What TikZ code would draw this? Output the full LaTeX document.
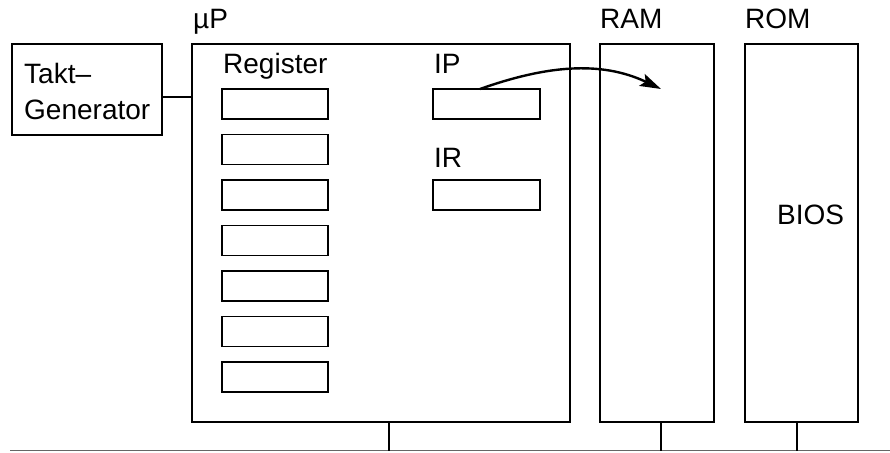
\documentclass[tikz,border=0pt]{standalone}
\usepackage{fontspec}
\setmainfont{Liberation Sans}
\usetikzlibrary{arrows.meta}
\begin{document}
\begin{tikzpicture}[x=1pt,y=-1pt,
  box/.style={draw,line width=1.2pt,inner sep=0pt,outer sep=0pt,anchor=north west},
  reg/.style={box,minimum width=106pt,minimum height=30pt},
  lbl/.style={anchor=base west,inner sep=0pt,font=\fontsize{28}{33}\selectfont},
  wire/.style={line width=2.4pt},
  bus/.style={line width=1.4pt,black!60}]
  \useasboundingbox (0,0) rectangle (890,452);

  % clock generator
  \node[box,minimum width=150pt,minimum height=91pt] (takt) at (12,44) {};
  \node[lbl] (taktA) at (24,83) {Takt–};
  \node[lbl] (taktB) at (24,119) {Generator};

  % microprocessor with its registers
  \node[box,minimum width=378pt,minimum height=378pt] (up) at (192,44) {};
  \node[lbl] (upL) at (193,29) {µP};
  \node[lbl] (regL) at (223,74) {Register};
  \foreach \i in {0,...,6}
    \node[reg] (r\i) at (222,{89+45.5*\i}) {};
  \node[lbl] (ipL) at (434,74) {IP};
  \node[reg,minimum width=107pt] (ip) at (433,89) {};
  \node[lbl] (irL) at (434,167) {IR};
  \node[reg,minimum width=107pt] (ir) at (433,180) {};

  % memories
  \node[box,minimum width=114pt,minimum height=378pt] (ram) at (600,44) {};
  \node[lbl] (ramL) at (600,29) {RAM};
  \node[box,minimum width=113pt,minimum height=378pt] (rom) at (745,44) {};
  \node[lbl] (romL) at (745,29) {ROM};
  \node[lbl] (bios) at (777,224) {BIOS};

  % instruction pointer refers into RAM
  \coordinate (ipsrc) at (480,89);
  \coordinate (iptgt) at (661,89);
  \draw[line width=2.4pt,-{Stealth[length=21pt,width=13pt,inset=4pt]}]
    (ipsrc) .. controls (545,66) and (600,60) .. (iptgt);

  % clock line
  \draw[wire] (takt.east |- 0,97) -- (up.west |- 0,97);

  % system bus
  \coordinate (busL) at (10,450.5);
  \coordinate (busR) at (890,450.5);
  \coordinate (bupt) at (389,450.5);
  \coordinate (bram) at (661,450.5);
  \coordinate (brom) at (797,450.5);
  \draw[bus] (busL) -- (busR);
  \draw[wire] (up.south -| bupt) -- (bupt);
  \draw[wire] (ram.south -| bram) -- (bram);
  \draw[wire] (rom.south -| brom) -- (brom);
\end{tikzpicture}
\end{document}
